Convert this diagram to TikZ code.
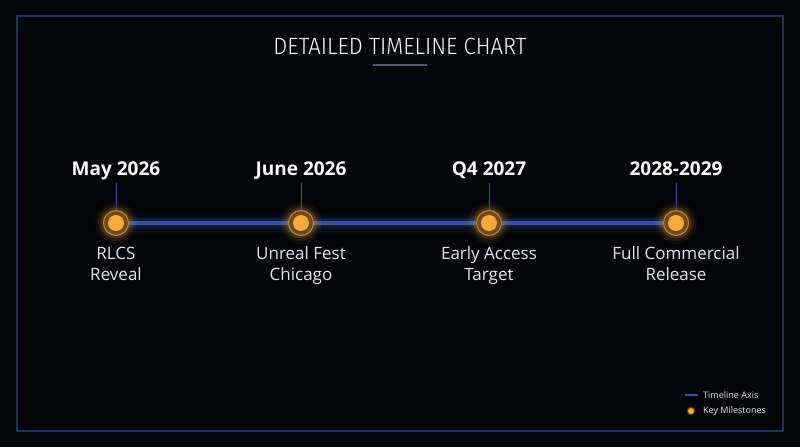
\documentclass[tikz,border=0pt]{standalone}
\usepackage{fontspec}
\setmainfont{Open Sans}
\newfontfamily\titlefont[FakeStretch=0.94]{Fira Sans Light}
\usetikzlibrary{positioning}

\definecolor{bgdark}{HTML}{030407}
\definecolor{frameblue}{HTML}{1F3560}
\definecolor{axisblue}{HTML}{34559A}
\definecolor{glowblue}{HTML}{2A4A8A}
\definecolor{mileorange}{HTML}{F9A93A}
\definecolor{haloorange}{HTML}{6E4A1E}
\definecolor{textgray}{HTML}{E6E6E6}

\tikzset{
  datelabel/.style={font=\fontsize{19}{21}\selectfont\bfseries, text=white, inner sep=0pt, anchor=base},
  desclabel/.style={font=\fontsize{17}{21}\selectfont, text=textgray, inner sep=0pt, anchor=base},
  legendtext/.style={font=\fontsize{9}{10}\selectfont, text=textgray, anchor=west, inner sep=0pt},
  tickline/.style={axisblue, line width=1pt},
}

\begin{document}
\begin{tikzpicture}[x=1pt, y=-1pt]
	% --- 1. CANVAS ---
	\fill[bgdark] (0,0) rectangle (800,447);
	\useasboundingbox (0,0) rectangle (800,447);
	\draw[frameblue, line width=2pt] (17,16) rectangle (783,431);
	
	% Title and underline
	\node[text=white, font=\titlefont\fontsize{23.5}{26}\selectfont, inner sep=0pt, anchor=base] (title) at (400,54) {DETAILED TIMELINE CHART};
	\coordinate (ul1) at (373,65);
	\coordinate (ul2) at (427,65);
	\draw[frameblue!80!white, line width=2pt] (ul1) -- (ul2);
	
	% --- 2. AXIS WITH GLOW ---
	\coordinate (axisL) at (116,223);
	\coordinate (axisR) at (676,223);
	\foreach \w/\o in {22/0.06, 17/0.08, 12/0.12, 8/0.2}
		\draw[glowblue, line width=\w pt, opacity=\o] (axisL) -- (axisR);
	\draw[axisblue, line width=4pt] (axisL) -- (axisR);
	
	% --- 3. MILESTONES ---
	\foreach \x/\name/\date/\top/\bot in {116/m1/May 2026/RLCS/Reveal,
	                                 301/m2/June 2026/Unreal Fest/Chicago,
	                                 489/m3/Q4 2027/Early Access/Target,
	                                 676/m4/2028-2029/Full Commercial/Release}{
		\coordinate (\name) at (\x,223);
		% glow halo
		\foreach \r/\o in {21/0.05, 18/0.09, 15.5/0.15}
			\fill[mileorange, opacity=\o] (\name) circle (\r);
		\fill[haloorange] (\name) circle (13);
		\draw[mileorange!60!haloorange, line width=1pt] (\name) circle (12.5);
		\fill[mileorange] (\name) circle (8);
		% date and tick
		\node[datelabel] (\name date) at (\x,175) {\date};
		\coordinate (\name tickA) at (\x,183);
		\coordinate (\name tickB) at (\x,210);
		\draw[tickline] (\name tickA) -- (\name tickB);
		% description, two lines
		\node[desclabel] (\name descA) at (\x,259) {\top};
		\node[desclabel] (\name descB) at (\x,280) {\bot};
	}
	
	% --- 4. LEGEND ---
	\coordinate (legA) at (685,395);
	\coordinate (legB) at (698,395);
	\draw[axisblue, line width=1.5pt] (legA) -- (legB);
	\node[legendtext] (legaxis) at (703,395) {Timeline Axis};
	\coordinate (legdot) at (691,411);
	\fill[mileorange, opacity=0.3] (legdot) circle (4.5);
	\fill[mileorange] (legdot) circle (3);
	\node[legendtext] (legmile) at (703,411) {Key Milestones};
\end{tikzpicture}
\end{document}
